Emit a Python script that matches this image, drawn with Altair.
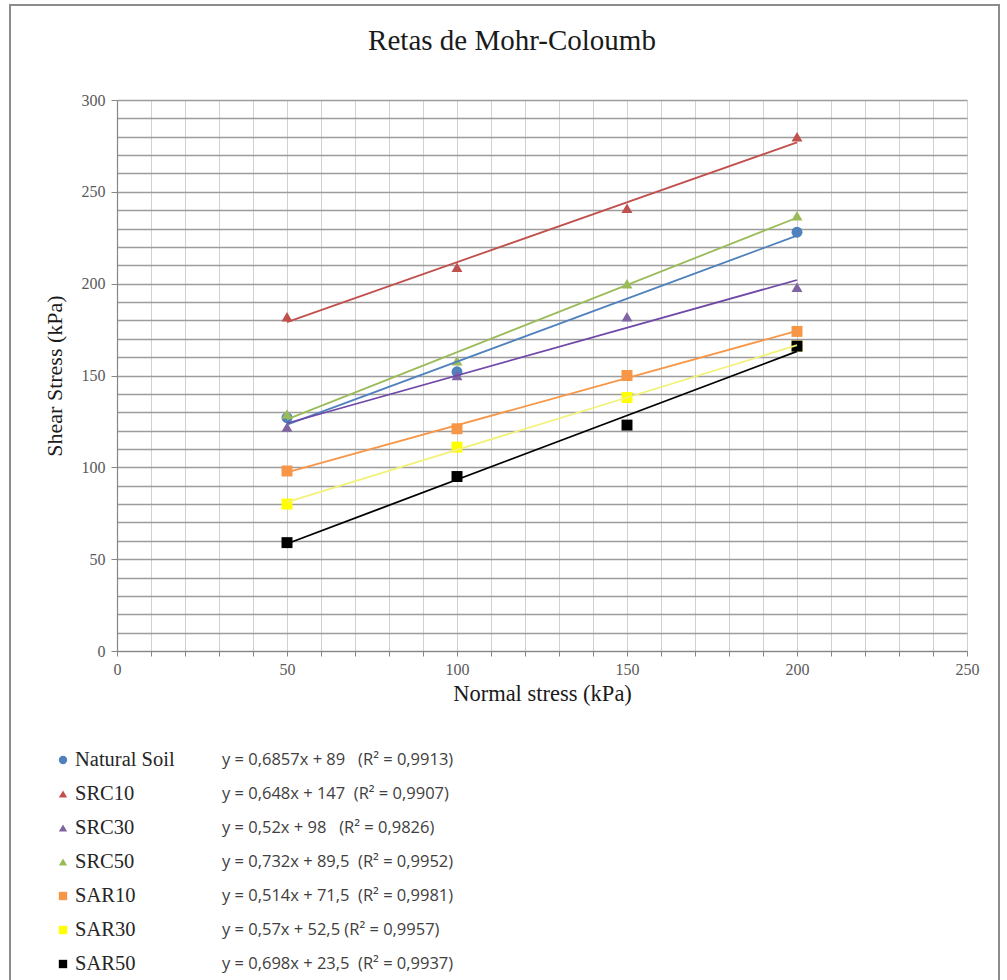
import altair as alt
import pandas as pd

# ---- data ----
series_names = ["Natural Soil", "SRC10", "SRC30", "SRC50", "SAR10", "SAR30", "SAR50"]
normal_stress = [50, 100, 150, 200]
natural_soil_x = [50, 100, 200]
natural_soil_y = [127, 152, 228]
src10_y = [182, 209, 241, 280]
src30_y = [122, 150, 182, 198]
src50_y = [129, 158, 200, 237]
sar10_y = [98, 121, 150, 174]
sar30_y = [80, 111, 138, 166]
sar50_y = [59, 95, 123, 166]
NB = "\u00a0"
equations = [
    f"y = 0,6857x + 89 {NB}{NB}(R² = 0,9913)",
    f"y = 0,648x + 147 {NB}(R² = 0,9907)",
    f"y = 0,52x + 98 {NB}{NB}(R² = 0,9826)",
    f"y = 0,732x + 89,5 {NB}(R² = 0,9952)",
    f"{NB}y = 0,514x + 71,5 {NB}(R² = 0,9981)",
    f"{NB}y = 0,57x + 52,5 (R² = 0,9957)",
    f"{NB}y = 0,698x + 23,5 {NB}(R² = 0,9937)",
]
x_ticks = list(range(0, 251, 10))
y_ticks = list(range(0, 301, 10))

# ---- styles ----
marker_colors = ["#4F81BD", "#C0504D", "#8064A2", "#9BBB59", "#F79646", "#FFFF00", "#000000"]
line_colors = ["#4F81BD", "#C0504D", "#7048A8", "#9BBB59", "#F79646", "#F2F27A", "#000000"]
line_widths = [1.8, 1.8, 1.8, 1.8, 1.8, 3.5, 1.8]
shapes = ["circle", "triangle-up", "triangle-up", "triangle-up", "square", "square", "square"]

rows = []
for xv, yv in zip(natural_soil_x, natural_soil_y):
    rows.append({"series": "Natural Soil", "stress": xv, "shear": yv})
for name, ys in zip(series_names[1:], [src10_y, src30_y, src50_y, sar10_y, sar30_y, sar50_y]):
    for xv, yv in zip(normal_stress, ys):
        rows.append({"series": name, "stress": xv, "shear": yv})
df = pd.DataFrame(rows)
df_leg = pd.DataFrame({"series": series_names, "equation": equations})

SERIF = "Liberation Serif"
xscale = alt.Scale(domain=[0, 250], nice=False, zero=False)
yscale = alt.Scale(domain=[0, 300], nice=False, zero=False)
fill_scale = alt.Scale(domain=series_names, range=marker_colors)
shape_scale = alt.Scale(domain=series_names, range=shapes)

x_axis = alt.Axis(
    values=x_ticks,
    labelExpr="datum.value % 50 === 0 ? datum.label : ''",
    labelOverlap=False, labelFlush=False,
    grid=True, gridColor="#d0d0d0", gridWidth=1,
    tickColor="#868686", tickSize=5, domainColor="#868686", domainWidth=1.2,
    labelFont=SERIF, labelFontSize=16, labelColor="#595959", labelPadding=5,
    title="Normal stress (kPa)", titleFont=SERIF, titleFontSize=22.5,
    titleFontWeight="normal", titleColor="#1a1a1a", titlePadding=5,
)
y_axis = alt.Axis(
    values=y_ticks,
    labelExpr="datum.value % 50 === 0 ? datum.label : ''",
    labelOverlap=False, labelFlush=False,
    grid=True, gridColor="#9c9c9c", gridWidth=1.5,
    tickColor="#868686", tickSize=6,
    tickOpacity={"condition": {"test": "datum.value % 50 === 0", "value": 1}, "value": 0},
    domainColor="#868686", domainWidth=1.2,
    labelFont=SERIF, labelFontSize=16, labelColor="#595959", labelPadding=6,
    title="Shear Stress (kPa)", titleFont=SERIF, titleFontSize=22,
    titleFontWeight="normal", titleColor="#1a1a1a", titlePadding=15,
)

points = alt.Chart(df).mark_point(filled=True, size=120, opacity=1).encode(
    x=alt.X("stress:Q", scale=xscale, axis=x_axis),
    y=alt.Y("shear:Q", scale=yscale, axis=y_axis),
    fill=alt.Fill("series:N", scale=fill_scale, legend=None),
    shape=alt.Shape("series:N", scale=shape_scale, legend=None),
)

lines = alt.Chart(df).transform_regression(
    "stress", "shear", groupby=["series"]
).mark_line().encode(
    x=alt.X("stress:Q", scale=xscale, axis=x_axis),
    y=alt.Y("shear:Q", scale=yscale, axis=y_axis),
    stroke=alt.Stroke("series:N", scale=alt.Scale(domain=series_names, range=line_colors), legend=None),
    strokeWidth=alt.StrokeWidth("series:N", scale=alt.Scale(domain=series_names, range=line_widths), legend=None),
)

inner = alt.layer(points, lines)

leg_y = alt.Y("series:N", sort=series_names,
              scale=alt.Scale(domain=series_names, range=[660, 864], padding=0), axis=None)

leg_sym = alt.Chart(df_leg).mark_point(filled=True, size=70, opacity=1).encode(
    x=alt.value(-54), y=leg_y,
    fill=alt.Fill("series:N", scale=fill_scale, legend=None),
    shape=alt.Shape("series:N", scale=shape_scale, legend=None),
)
leg_names = alt.Chart(df_leg).mark_text(
    align="left", baseline="middle", font=SERIF, fontSize=20.5, color="#262626"
).encode(x=alt.value(-42), y=leg_y, text="series:N")
leg_eqs = alt.Chart(df_leg).mark_text(
    align="left", baseline="middle", font="Open Sans", fontSize=16.5, color="#404040"
).encode(x=alt.value(105), y=leg_y, text="equation:N")

border = alt.Chart(pd.DataFrame({"k": [0]})).mark_rect(
    fill="transparent", stroke="#8c8c8c", strokeWidth=2
).encode(x=alt.value(-107), x2=alt.value(882), y=alt.value(-95), y2=alt.value(900))

chart = alt.layer(inner, border, leg_sym, leg_names, leg_eqs).resolve_scale(
    y="independent"
).properties(
    width=850, height=551,
    autosize=alt.AutoSizeParams(type="none"),
    padding={"left": 117, "top": 100, "right": 40, "bottom": 329},
    background="white",
    title=alt.TitleParams(
        "Retas de Mohr-Coloumb", font=SERIF, fontSize=29, fontWeight="normal",
        color="#1a1a1a", anchor="middle", dx=-30, offset=0, dy=75,
        baseline="alphabetic",
    ),
).configure_view(stroke=None)

chart.save("out.html", embed_options={"renderer": "svg", "actions": False})
